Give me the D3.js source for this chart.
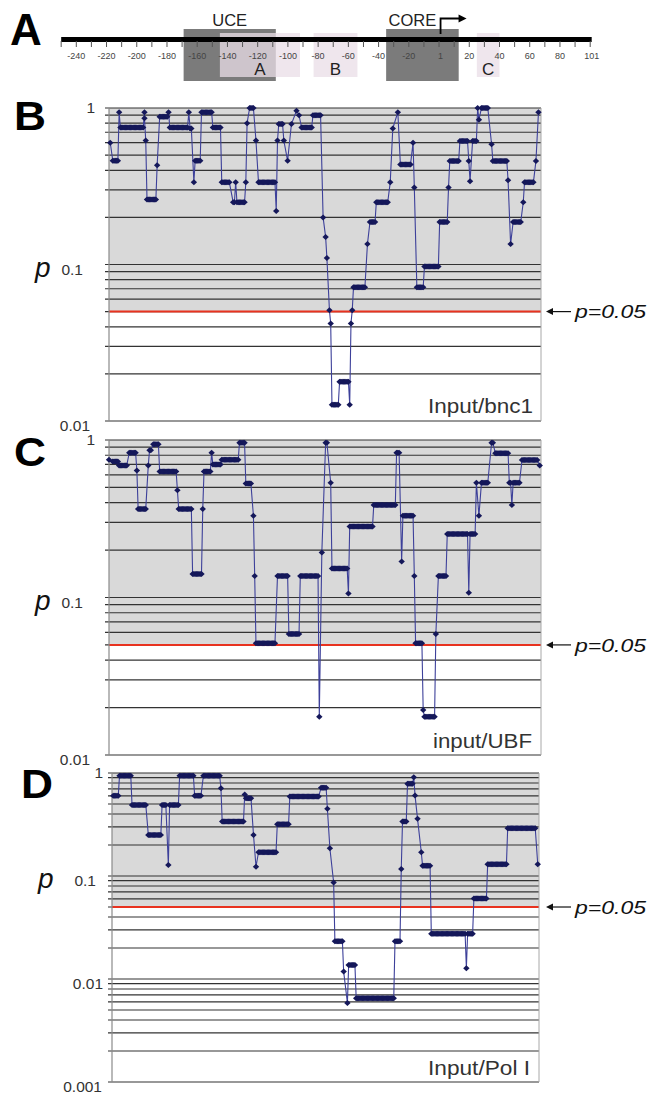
<!DOCTYPE html>
<html lang="en">
<head>
<meta charset="UTF-8">
<title>p-value scan across the promoter</title>
<script src="https://cdn.jsdelivr.net/npm/d3@7"></script>
<style>
  body { margin: 0; background: #fff; }
  svg { display: block; font-family: "Liberation Sans", Arial, sans-serif; }
</style>
</head>
<body>
<svg id="fig" width="648" height="1096"></svg>
<script>
// each run: [first position, last position, p] (positions in bp)
var bnc1Runs = [
  [-239,-239,0.6],[-237,-233,0.46],[-232,-232,0.94],[-231,-213,0.75],[-212,-212,0.94],
  [-212,-212,0.86],[-211,-211,0.62],[-210,-203,0.26],[-202,-202,0.43],[-200,-194,0.88],
  [-193,-193,0.94],[-192,-178,0.75],[-177,-177,0.94],[-176,-175,0.74],[-173,-173,0.335],
  [-172,-168,0.46],[-167,-159,0.94],[-158,-152,0.75],[-151,-145,0.335],[-142,-141,0.25],
  [-140,-140,0.335],[-139,-133,0.25],[-132,-132,0.335],[-131,-131,0.8],[-129,-126,1.0],
  [-124,-124,0.62],[-122,-109,0.335],[-108,-108,0.22],[-107,-107,0.62],[-106,-103,0.79],
  [-102,-102,0.62],[-99,-99,0.46],[-96,-96,0.79],[-92,-92,0.96],[-90,-90,0.9],
  [-88,-80,0.75],[-79,-73,0.9],[-71,-71,0.2],[-69,-69,0.15],[-68,-68,0.11],
  [-66,-66,0.051],[-65,-65,0.042],[-64,-59,0.0127],[-58,-51,0.0178],[-50,-50,0.0127],
  [-49,-49,0.042],[-48,-48,0.051],[-47,-38,0.0715],[-36,-36,0.135],[-34,-30,0.187],
  [-29,-20,0.25],[-18,-18,0.335],[-16,-16,0.74],[-12,-12,0.94],[-10,-2,0.436],
  [0,0,0.6],[1,1,0.31],[3,8,0.0715],[9,20,0.097],[21,27,0.187],
  [28,28,0.31],[29,36,0.458],[37,43,0.616],[44,44,0.458],[45,45,0.34],
  [47,50,0.616],[51,51,1.0],[52,52,0.84],[54,59,1.0],[62,62,0.586],
  [63,74,0.458],[75,75,0.345],[77,77,0.135],[79,85,0.187],[87,87,0.25],
  [88,95,0.335],[97,97,0.458],[99,99,0.938]
];
var ubfRuns = [
  [-240,-240,0.75],[-237,-233,0.73],[-232,-226,0.69],[-224,-219,0.83],[-218,-218,0.64],
  [-217,-211,0.365],[-209,-209,0.69],[-208,-207,0.86],[-205,-201,0.94],[-200,-187,0.63],
  [-186,-186,0.48],[-185,-175,0.365],[-174,-167,0.141],[-166,-166,0.365],[-165,-160,0.63],
  [-159,-159,0.83],[-158,-152,0.70],[-151,-138,0.75],[-137,-133,0.96],[-132,-128,0.53],
  [-126,-126,0.33],[-125,-125,0.137],[-124,-109,0.0512],[-107,-99,0.137],[-98,-90,0.0587],
  [-89,-75,0.137],[-74,-74,0.0175],[-72,-72,0.193],[-69,-68,0.96],[-65,-65,0.535],
  [-64,-52,0.153],[-51,-51,0.106],[-50,-32,0.282],[-31,-14,0.387],[-13,-11,0.83],
  [-9,-9,0.169],[-8,0,0.33],[1,1,0.137],[2,7,0.0512],[8,8,0.0193],
  [9,17,0.0175],[18,18,0.0587],[20,26,0.137],[27,43,0.253],[44,44,0.107],
  [45,49,0.253],[50,50,0.535],[52,52,0.33],[54,59,0.535],[62,63,0.96],
  [65,75,0.823],[76,77,0.535],[78,78,0.387],[79,84,0.535],[86,98,0.746],
  [100,100,0.69]
];
var pol1Runs = [
  [-239,-235,0.6],[-234,-225,0.94],[-224,-213,0.49],[-211,-201,0.25],[-200,-197,0.49],
  [-195,-195,0.128],[-194,-187,0.49],[-186,-175,0.94],[-174,-169,0.6],[-167,-154,0.94],
  [-153,-153,0.71],[-152,-135,0.338],[-134,-134,0.62],[-133,-129,0.57],[-127,-127,0.25],
  [-125,-125,0.123],[-123,-109,0.17],[-108,-99,0.318],[-98,-75,0.59],[-73,-69,0.72],
  [-68,-68,0.449],[-66,-66,0.186],[-63,-63,0.0865],[-62,-56,0.0232],[-55,-55,0.0118],
  [-52,-52,0.00585],[-51,-46,0.0137],[-45,-15,0.0065],[-14,-10,0.0233],[-9,-9,0.117],
  [-8,-5,0.338],[-4,0,0.787],[1,1,0.907],[2,2,0.606],[4,4,0.359],
  [7,7,0.17],[8,14,0.126],[15,42,0.0275],[43,43,0.0127],[44,48,0.0275],
  [49,59,0.0604],[60,75,0.13],[76,98,0.291],[100,100,0.13]
];

var rulerTicks = d3.range(-250, 101, 10);
var rulerLabels = [-240,-220,-200,-180,-160,-140,-120,-100,-80,-60,-40,-20,1,20,40,60,80,101];
var regionNames = ["UCE", "CORE", "A", "B", "C"];
var regionStart = [-169, -35, -145, -83, 25];
var regionEnd   = [-108, 13, -92, -54, 40];
var regionKind  = ["element", "element", "probe", "probe", "probe"];
var pCutoff = 0.05;
var tssPos = 1;

var svg = d3.select("#fig");

// ---------- panel A: promoter map ----------
var rx = d3.scaleLinear().domain([-240, 101]).range([76.3, 591.7]);
var gA = svg.append("g");

gA.append("text").attr("x", 10).attr("y", 45)
  .attr("font-size", 44).attr("font-weight", "bold").text("A");

regionNames.forEach(function (name, i) {
  var el = regionKind[i] === "element";
  gA.append("rect")
    .attr("x", rx(regionStart[i])).attr("width", rx(regionEnd[i]) - rx(regionStart[i]))
    .attr("y", el ? 29 : 33).attr("height", el ? 52 : 44)
    .attr("fill", el ? "#7b7b7b" : "#eadde7")
    .attr("fill-opacity", el ? 1 : 0.75);
});

gA.append("line")
  .attr("x1", rx(-250)).attr("x2", rx(101)).attr("y1", 39.5).attr("y2", 39.5)
  .attr("stroke", "#000").attr("stroke-width", 5);

gA.selectAll("line.rtick").data(rulerTicks).enter().append("line")
  .attr("class", "rtick")
  .attr("x1", function (d) { return rx(d); }).attr("x2", function (d) { return rx(d); })
  .attr("y1", 41).attr("y2", 47).attr("stroke", "#555").attr("stroke-width", 1);

gA.selectAll("text.rlab").data(rulerLabels).enter().append("text")
  .attr("class", "rlab")
  .attr("x", function (d) { return rx(d); }).attr("y", 58.5)
  .attr("text-anchor", "middle").attr("font-size", 9).attr("fill", "#444")
  .text(function (d) { return d; });

regionNames.forEach(function (name, i) {
  var el = regionKind[i] === "element";
  gA.append("text")
    .attr("x", (rx(regionStart[i]) + rx(regionEnd[i])) / 2 + (i === 1 ? -10 : 0))
    .attr("y", el ? 26 : 75)
    .attr("text-anchor", "middle").attr("font-size", el ? 16.5 : 17).attr("fill", "#222")
    .text(name);
});

// transcription start arrow
var ax = rx(tssPos);
gA.append("path")
  .attr("d", "M" + ax + ",34V18.5H" + (ax + 20))
  .attr("fill", "none").attr("stroke", "#000").attr("stroke-width", 1.8);
gA.append("path")
  .attr("d", "M" + (ax + 26) + ",18.5L" + (ax + 18) + ",14.5L" + (ax + 18) + ",22.5Z")
  .attr("fill", "#000");

// ---------- panels B-D ----------
var panels = [
  { letter: "B", runs: bnc1Runs, name: "Input/bnc1", domain: [0.01, 1],
    left: 109, right: 541, top: 108, bottom: 421, letterX: 14, letterY: 130,
    labelRight: [95, 83, 90], nameRight: 533, nameY: 413, nameLen: 105 },
  { letter: "C", runs: ubfRuns, name: "input/UBF", domain: [0.01, 1],
    left: 109, right: 541, top: 440, bottom: 755, letterX: 14, letterY: 466,
    labelRight: [95, 83, 90], nameRight: 532, nameY: 748, nameLen: 99 },
  { letter: "D", runs: pol1Runs, name: "Input/Pol I", domain: [0.001, 1],
    left: 112, right: 539, top: 773, bottom: 1082, letterX: 21, letterY: 798,
    labelRight: [103, 96, 103, 102], nameRight: 530, nameY: 1075, nameLen: 102 }
];

function expand(runs) {
  var pts = [];
  runs.forEach(function (r) {
    for (var x = r[0]; x <= r[1]; x++) pts.push({ x: x, p: r[2] });
  });
  return pts;
}

var diamond = "M0,-3L3.2,0L0,3L-3.2,0Z";

panels.forEach(function (pn) {
  var x = d3.scaleLinear().domain([-240, 101]).range([pn.left, pn.right]);
  var y = d3.scaleLog().domain(pn.domain).range([pn.bottom, pn.top]);
  var g = svg.append("g");
  var w = pn.right - pn.left;

  g.append("rect")
    .attr("x", pn.left).attr("y", pn.top).attr("width", w)
    .attr("height", y(pCutoff) - pn.top).attr("fill", "#d9d9d9");

  g.selectAll("line.grid").data(y.ticks()).enter().append("line")
    .attr("class", "grid")
    .attr("x1", pn.left - 4).attr("x2", pn.right)
    .attr("y1", function (d) { return y(d); }).attr("y2", function (d) { return y(d); })
    .attr("stroke", "#333").attr("stroke-width", 1.2);

  g.append("line")
    .attr("x1", pn.left).attr("x2", pn.right).attr("y1", y(pCutoff)).attr("y2", y(pCutoff))
    .attr("stroke", "#e8321f").attr("stroke-width", 2);

  g.append("line").attr("x1", pn.left).attr("x2", pn.left)
    .attr("y1", pn.top).attr("y2", pn.bottom).attr("stroke", "#8a8a8a").attr("stroke-width", 1.2);
  g.append("line").attr("x1", pn.right).attr("x2", pn.right)
    .attr("y1", pn.top).attr("y2", pn.bottom).attr("stroke", "#a8a8a8").attr("stroke-width", 1);

  var pts = expand(pn.runs);
  g.append("path").datum(pts)
    .attr("fill", "none").attr("stroke", "#3d409a").attr("stroke-width", 1.1)
    .attr("d", d3.line().x(function (d) { return x(d.x); }).y(function (d) { return y(d.p); }));

  g.selectAll("path.pt").data(pts).enter().append("path")
    .attr("class", "pt").attr("d", diamond).attr("fill", "#15185a")
    .attr("transform", function (d) { return "translate(" + x(d.x) + "," + y(d.p) + ")"; });

  // tick labels at the decades
  var decades = pn.domain[0] === 0.001 ? [1, 0.1, 0.01, 0.001] : [1, 0.1, 0.01];
  decades.forEach(function (v, i) {
    g.append("text")
      .attr("x", pn.labelRight[i]).attr("y", y(v) + (i === 0 ? 0 : 5))
      .attr("dy", "0.35em").attr("text-anchor", "end")
      .attr("font-size", 15.5).attr("fill", "#333").text(String(v));
  });

  g.append("text").attr("x", pn.left - 74).attr("y", y(0.1) + 12)
    .attr("font-size", 28).attr("font-style", "italic").attr("fill", "#111").text("p");

  g.append("text").attr("x", pn.letterX).attr("y", pn.letterY)
    .attr("font-size", 40).attr("font-weight", "bold").attr("textLength", 32)
    .attr("lengthAdjust", "spacingAndGlyphs").text(pn.letter);

  g.append("text").attr("x", pn.nameRight - pn.nameLen).attr("y", pn.nameY)
    .attr("font-size", 20).attr("fill", "#333")
    .attr("textLength", pn.nameLen).attr("lengthAdjust", "spacingAndGlyphs")
    .text(pn.name);

  // p = 0.05 marker
  var yc = y(pCutoff);
  g.append("line").attr("x1", 549).attr("x2", 571).attr("y1", yc).attr("y2", yc)
    .attr("stroke", "#111").attr("stroke-width", 1.2);
  g.append("path").attr("d", "M546," + yc + "l7,-3.5v7z").attr("fill", "#111");
  g.append("text").attr("x", 575).attr("y", yc).attr("dy", "0.35em")
    .attr("font-size", 19).attr("font-style", "italic").attr("fill", "#111")
    .attr("textLength", 71).attr("lengthAdjust", "spacingAndGlyphs")
    .text("p=0.05");
});
</script>
</body>
</html>
